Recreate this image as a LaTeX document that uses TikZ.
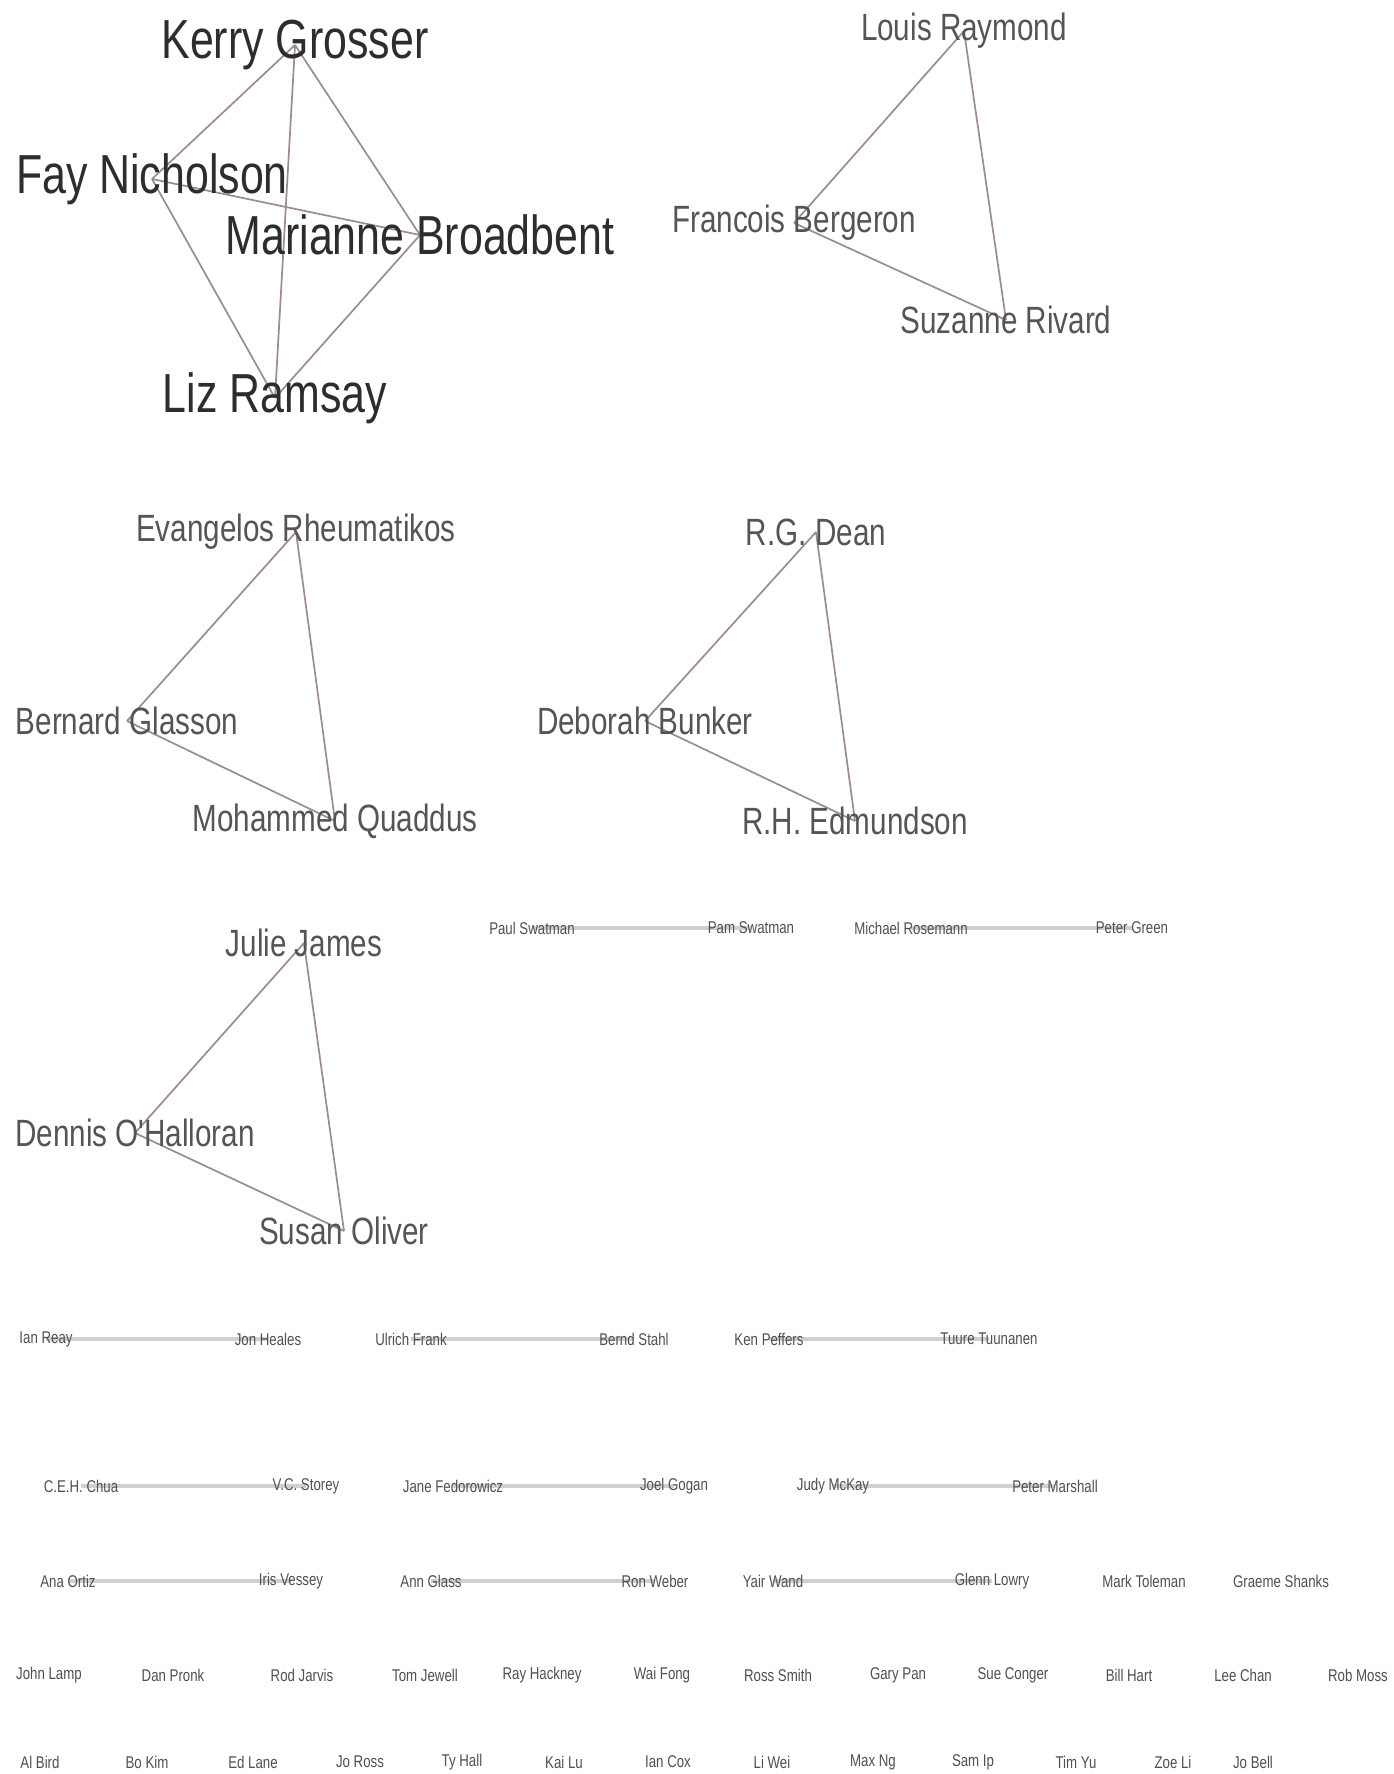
\documentclass[tikz,border=0pt]{standalone}
\usepackage{fontspec}
\newfontfamily\lblfont[FakeStretch=0.78]{Liberation Sans}
\definecolor{edgec}{RGB}{158,138,146}
\definecolor{pairc}{RGB}{208,208,208}
\definecolor{bigtxt}{RGB}{45,45,45}
\definecolor{midtxt}{RGB}{85,85,85}
\definecolor{smalltxt}{RGB}{80,80,80}
\pgfdeclarelayer{paper}
\pgfdeclarelayer{ties}
\pgfsetlayers{paper,ties,main}
\tikzset{
  big/.style={anchor=center,inner sep=0pt,text=bigtxt,font=\lblfont\fontsize{55}{60}\selectfont},
  mid/.style={anchor=center,inner sep=0pt,text=midtxt,font=\lblfont\fontsize{38}{42}\selectfont},
  tiny/.style={anchor=center,inner sep=0pt,text=smalltxt,font=\lblfont\fontsize{17}{19}\selectfont},
  tie/.style={draw=edgec,line width=1.7pt},
  pairtie/.style={draw=pairc,line width=4pt}
}
\begin{document}
\begin{tikzpicture}[x=1pt,y=-1pt]
\begin{pgfonlayer}{paper}
\fill[white] (0,0) rectangle (1394,1774);
\end{pgfonlayer}
\useasboundingbox (0,0) rectangle (1394,1774);

% ---- four-author component
\node[big] (kg) at (295,45)  {Kerry Grosser};
\node[big] (fn) at (152,179) {Fay Nicholson};
\node[big] (mb) at (420,235) {Marianne Broadbent};
\node[big] (lr) at (275,398) {Liz Ramsay};

% ---- three-author components
\node[mid] (lo) at (964,31)   {Louis Raymond};
\node[mid] (fb) at (794,223)  {Francois Bergeron};
\node[mid] (sr) at (1006,320) {Suzanne Rivard};

\node[mid] (er) at (296,532) {Evangelos Rheumatikos};
\node[mid] (bg) at (127,721) {Bernard Glasson};
\node[mid] (mq) at (335,821) {Mohammed Quaddus};

\node[mid] (rd) at (816,532) {R.G. Dean};
\node[mid] (db) at (645,721) {Deborah Bunker};
\node[mid] (re) at (855,821) {R.H. Edmundson};

\node[mid] (jj) at (304,943)  {Julie James};
\node[mid] (do) at (135,1133) {Dennis O'Halloran};
\node[mid] (so) at (344,1231) {Susan Oliver};

% ---- two-author components
\node[tiny] (a1) at (532,928)  {Paul Swatman};
\node[tiny] (a2) at (751,928)  {Pam Swatman};
\node[tiny] (a3) at (911,928)  {Michael Rosemann};
\node[tiny] (a4) at (1132,928) {Peter Green};

\node[tiny] (b1) at (46,1339)  {Ian Reay};
\node[tiny] (b2) at (268,1339) {Jon Heales};
\node[tiny] (b3) at (411,1339) {Ulrich Frank};
\node[tiny] (b4) at (634,1339) {Bernd Stahl};
\node[tiny] (b5) at (769,1339) {Ken Peffers};
\node[tiny] (b6) at (989,1339) {Tuure Tuunanen};

\node[tiny] (c1) at (81,1486)   {C.E.H. Chua};
\node[tiny] (c2) at (306,1486)  {V.C. Storey};
\node[tiny] (c3) at (453,1486)  {Jane Fedorowicz};
\node[tiny] (c4) at (674,1486)  {Joel Gogan};
\node[tiny] (c5) at (833,1486)  {Judy McKay};
\node[tiny] (c6) at (1055,1486) {Peter Marshall};

\node[tiny] (d1) at (68,1581)   {Ana Ortiz};
\node[tiny] (d2) at (291,1581)  {Iris Vessey};
\node[tiny] (d3) at (431,1581)  {Ann Glass};
\node[tiny] (d4) at (655,1581)  {Ron Weber};
\node[tiny] (d5) at (773,1581)  {Yair Wand};
\node[tiny] (d6) at (992,1581)  {Glenn Lowry};
\node[tiny] (d7) at (1144,1581) {Mark Toleman};
\node[tiny] (d8) at (1281,1581) {Graeme Shanks};

% ---- single authors
\foreach \xx/\nm [count=\i] in {49/John Lamp,173/Dan Pronk,302/Rod Jarvis,425/Tom Jewell,
    542/Ray Hackney,662/Wai Fong,778/Ross Smith,898/Gary Pan,1013/Sue Conger,
    1129/Bill Hart,1243/Lee Chan,1358/Rob Moss}
  \node[tiny] (e\i) at (\xx,1675) {\nm};
\foreach \xx/\nm [count=\i] in {40/Al Bird,147/Bo Kim,253/Ed Lane,360/Jo Ross,462/Ty Hall,
    564/Kai Lu,668/Ian Cox,772/Li Wei,873/Max Ng,973/Sam Ip,1076/Tim Yu,1173/Zoe Li,1253/Jo Bell}
  \node[tiny] (f\i) at (\xx,1762) {\nm};

% ---- co-authorship ties, kept beneath the names
\begin{pgfonlayer}{ties}
\path[tie] (kg.center) -- (fn.center) (kg.center) -- (mb.center) (kg.center) -- (lr.center)
           (fn.center) -- (mb.center) (fn.center) -- (lr.center) (mb.center) -- (lr.center);
\path[tie] (lo.center) -- (fb.center) (lo.center) -- (sr.center) (fb.center) -- (sr.center);
\path[tie] (er.center) -- (bg.center) (er.center) -- (mq.center) (bg.center) -- (mq.center);
\path[tie] (rd.center) -- (db.center) (rd.center) -- (re.center) (db.center) -- (re.center);
\path[tie] (jj.center) -- (do.center) (jj.center) -- (so.center) (do.center) -- (so.center);
\path[pairtie] (a1.center) -- (a2.center) (a3.center) -- (a4.center)
               (b1.center) -- (b2.center) (b3.center) -- (b4.center) (b5.center) -- (b6.center)
               (c1.center) -- (c2.center) (c3.center) -- (c4.center) (c5.center) -- (c6.center)
               (d1.center) -- (d2.center) (d3.center) -- (d4.center) (d5.center) -- (d6.center);
\end{pgfonlayer}
\end{tikzpicture}
\end{document}
